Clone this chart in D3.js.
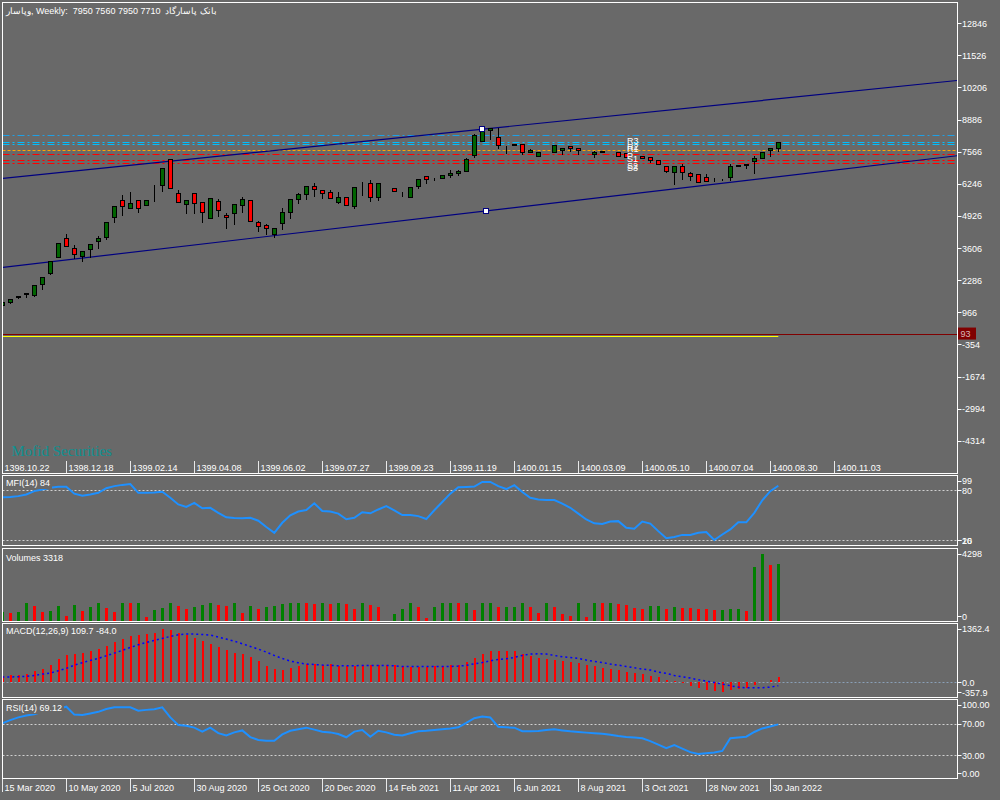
<!DOCTYPE html>
<html>
<head>
<meta charset="utf-8">
<script src="https://cdn.jsdelivr.net/npm/d3@7"></script>
<style>
body{margin:0;background:#696969;}
text{font-family:"Liberation Sans",Arial,sans-serif;font-size:9px;fill:#fff;}
</style>
</head>
<body>
<svg id="chart" width="1000" height="800"></svg>
<script>
// weekly candles [open, high, low, close]
var candles = [
 [1250,1400,1230,1390],[1380,1550,1330,1520],[1580,1660,1560,1650],[1720,1770,1610,1760],[1660,2080,1650,2075],
 [2140,2470,1935,2430],[2570,3115,2560,3085],[3225,3810,3220,3800],[4005,4210,3700,3705],[3595,3775,3185,3350],
 [3290,3480,3085,3470],[3580,3770,3250,3760],[3910,4145,3620,4020],[4050,4670,3965,4665],[4895,5330,4690,5320],
 [5570,5815,4975,5345],[5240,5950,5235,5445],[5570,5575,5100,5240],[5365,5575,5360,5570],[5920,6240,5550,5925],
 [6185,6890,5965,6885],[7255,7260,6080,6085],[5855,6020,5480,5485],[5405,5575,5060,5570],[5855,5860,5060,5445],
 [5485,5490,4690,5075],[4855,5655,4850,5650],[5530,5650,4935,5160],[4950,5075,4445,4870],[5035,5410,4605,5405],
 [5365,5735,5100,5610],[5570,5575,4700,4705],[4665,4745,4320,4525],[4540,4625,4195,4420],[4195,4420,4050,4420],
 [4625,5280,4400,5075],[5075,5615,4830,5610],[5610,5895,5445,5815],[5815,6150,5610,6145],[6145,6310,5760,6020],
 [5980,5985,5675,5855],[5895,6020,5645,5650],[5485,5940,5445,5690],[5690,5695,5360,5365],[5320,6110,5240,6105],
 [6350,6355,5775,6350],[6265,6430,5530,5690],[5690,6270,5570,6265],[6060,6065,6055,6060],[6060,6065,5935,5940],
 [5815,5940,5735,5815],[5690,6105,5690,6105],[6145,6435,6060,6430],[6555,6560,6265,6430],[6455,6515,6390,6455],
 [6475,6600,6470,6595],[6595,6845,6515,6680],[6680,6845,6595,6760],[6760,7335,6755,7255],[7420,8320,7360,8240],
 [7995,8490,7990,8485],[8445,8530,8075,8530],[8160,8570,7705,7830],[7855,7860,7525,7855],[7830,7900,7825,7895],
 [7870,7875,7460,7540],[7540,7705,7535,7635],[7375,7560,7370,7555],[7540,7545,7535,7540],[7540,7830,7535,7830],
 [7625,7745,7460,7705],[7790,7795,7585,7705],[7705,7710,7460,7625],[7625,7630,7620,7625],[7460,7625,7335,7540],
 [7540,7585,7540,7585],[7540,7545,7535,7540],[7540,7545,7375,7375],[7500,7505,7335,7335],[7375,7380,7370,7375],
 [7370,7380,7290,7295],[7335,7340,7130,7215],[7215,7220,7045,7050],[6965,6970,6740,6785],[6720,6970,6225,6965],
 [6965,7090,6430,6720],[6680,6760,6390,6555],[6635,6640,6305,6310],[6515,6680,6345,6350],[6430,6515,6350,6430],
 [6430,6470,6400,6430],[6515,7090,6390,6965],[6965,7010,6960,7005],[7005,7090,6885,7050],[7170,7420,6680,7295],
 [7295,7585,7290,7540],[7625,7745,7375,7705],[7710,7955,7585,7950]
];

var volumes = [500,440,500,1030,850,500,560,850,320,910,
 560,790,1030,730,500,1030,1020,1035,205,616,
 734,1027,851,675,792,910,1027,910,851,1027,
 440,851,675,792,851,969,1027,1035,1025,969,
 1027,969,1027,969,675,1027,910,792,0,382,
 675,1027,792,147,792,1027,1035,1025,1030,616,
 1027,1035,792,800,810,1027,792,440,1027,792,
 382,264,1027,205,1027,1020,1030,969,910,734,
 725,851,860,675,792,785,734,725,675,616,
 625,675,685,558,3140,3886,3258,3318];

var mfi = [71.6,72,73,75,79,81,83,84.3,84.3,76,
 73.5,75,77,82.5,85,86.5,87.5,77,77,77.5,
 78.3,71,63,60,65,58.5,59,53,47.6,46.8,
 46.5,47,43.5,36,29,41,50,54.5,56.4,64.4,
 55.2,54.6,52,45.2,47,53.6,52.4,57,61,56,
 50.3,50.3,49,45.5,56,66,76,83.6,84,84.5,
 90,90,85,81.5,86,78,71,69,68.5,68.4,
 64,59,52,45,40.4,39.5,42.5,43,35,34,
 42.5,40,31,22.4,24,26.5,26.5,29,30,20.3,
 27,33,41.6,41.6,53,68,79,85.5];

var macdMain = [140,155,171,186,264,302,388,535,636,659,
 682,729,767,845,930,1000,1077,1085,1108,1147,
 1232,1217,1139,1101,1023,946,891,814,736,674,
 659,574,488,380,302,287,333,380,426,426,
 403,419,380,364,380,403,395,403,395,395,
 380,349,357,357,372,372,388,403,457,558,
 655,725,729,729,713,659,612,558,535,512,
 496,465,442,388,364,326,302,287,233,209,
 186,147,109,54,31,-31,-85,-140,-178,-202,
 -225,-178,-163,-140,-62,-5,54,109.7];

var macdSignal = [116,120,124,132,155,186,209,264,318,395,
 450,504,550,612,674,736,806,868,922,969,
 1015,1062,1101,1116,1116,1108,1093,1046,1000,953,
 891,829,767,698,620,550,488,450,419,411,
 395,388,380,380,380,388,388,388,388,380,
 364,364,364,364,364,364,364,372,388,426,
 455,496,525,543,574,620,651,659,651,620,
 589,574,550,512,481,457,419,395,364,333,
 302,279,233,202,155,124,93,54,23,-8,
 -47,-85,-116,-132,-132,-132,-116,-84];

var rsi = [70.5,74.5,78,80.5,82,85,87,89,91.5,81.5,
 81,83,85,88.5,90.7,90.7,90.7,86.5,87.5,88.3,
 90.7,78,68.3,67.5,65,60,65,58,55,59,
 61.5,53,49.5,48.5,48.5,56.5,61,63,65,62.5,
 59.9,59,57,52.8,60,62,53.5,61,59,56,
 55,58,60.3,61,62,63,63.8,65.5,71,77,
 79,77.8,66,65.4,65,60.5,60.3,60.8,62,62.9,
 61.5,60.3,59.5,58.7,58,57.3,56,54.3,53.2,52.5,
 51.6,48,43.5,38.9,43,38.5,34,31.6,32.5,33.5,
 35.5,51.5,52.5,53.5,59.5,64,66.5,69.12];

var pivots = [
 {name:"R3", value:8240, kind:"R3"},
 {name:"R2", value:7977, kind:"R"},
 {name:"R1", value:7883, kind:"R"},
 {name:"P",  value:7624, kind:"P"},
 {name:"S1", value:7472, kind:"S"},
 {name:"S2", value:7213, kind:"S"},
 {name:"S3", value:7102, kind:"S"}
];

// channel lines as [bar, price] pairs
var channels = [
 {from:[0,6470], to:[120,10515]},
 {from:[0,2810], to:[120,7425]}
];
var channelAnchors = [{line:0, bar:60}, {line:1, bar:60.5}];

var levelLine = 93, yellowLevel = -10;

var priceTicks = [12846,11526,10206,8886,7566,6246,4926,3606,2286,966,-354,-1674,-2994,-4314];
var persianDates = ["1398.10.22","1398.12.18","1399.02.14","1399.04.08","1399.06.02","1399.07.27","1399.09.23",
 "1399.11.19","1400.01.15","1400.03.09","1400.05.10","1400.07.04","1400.08.30","1400.11.03"];
var gregDates = ["15 Mar 2020","10 May 2020","5 Jul 2020","30 Aug 2020","25 Oct 2020","20 Dec 2020","14 Feb 2021",
 "11 Apr 2021","6 Jun 2021","8 Aug 2021","3 Oct 2021","28 Nov 2021","30 Jan 2022"];

var mfiTicks = [99,80,20,16], volTicks = [4298,0], macdTicks = [1362.4,0,-357.9], rsiTicks = [100,70,30,0];

var title = "\u0648\u067E\u0627\u0633\u0627\u0631, Weekly:  7950 7560 7950 7710  \u0628\u0627\u0646\u06A9 \u067E\u0627\u0633\u0627\u0631\u06AF\u0627\u062F";

var svg = d3.select("#chart");
var L = 2.5, R = 957.5;
var panes = {
    main: {top:2.5, bottom:473.5},
    mfi:  {top:475.5, bottom:545.5},
    vol:  {top:548.5, bottom:621.5},
    macd: {top:623.5, bottom:697.5},
    rsi:  {top:699.5, bottom:778.5}
};

var x = d3.scaleLinear().domain([0, 97]).range([2.3, 778.3]);
var yPrice = d3.scaleLinear().domain([966, 7566]).range([312.3, 151.7]);
var yMfi = d3.scaleLinear().domain([20, 80]).range([540.3, 490.3]);
var yVol = d3.scaleLinear().domain([0, 3318]).range([621, 564]);
var yMacd = d3.scaleLinear().domain([-357.9, 1362.4]).range([697.5, 623.5]);
var yRsi = d3.scaleLinear().domain([0, 100]).range([779, 700]);

svg.append("rect").attr("width", 1000).attr("height", 800).attr("fill", "#696969");

var defs = svg.append("defs");
Object.keys(panes).forEach(function(k) {
    var p = panes[k];
    defs.append("clipPath").attr("id", "clip-" + k)
        .append("rect").attr("x", L + 0.5).attr("y", p.top + 0.5)
        .attr("width", R - L - 1).attr("height", p.bottom - p.top - 1);
});

var cx = i => Math.round(x(i));
var px = v => Math.round(v) + 0.5;

// ---------- main pane ----------
var mainG = svg.append("g").attr("clip-path", "url(#clip-main)");

mainG.append("line").attr("x1", L).attr("x2", R)
    .attr("y1", px(yPrice(levelLine))).attr("y2", px(yPrice(levelLine)))
    .attr("stroke", "#800000");
mainG.append("line").attr("x1", L).attr("x2", x(candles.length - 1))
    .attr("y1", px(yPrice(yellowLevel))).attr("y2", px(yPrice(yellowLevel)))
    .attr("stroke", "#ffff00");

var pivotStyle = {
    R3: {color:"#1ea0e6", dash:"7,3,2,3"},
    R:  {color:"#00bfff", dash:"7,3,2,3"},
    P:  {color:"#ffa500", dash:"3,2"},
    S:  {color:"#ff0000", dash:"7,3,2,3"}
};
mainG.selectAll("line.pivot").data(pivots).enter().append("line")
    .attr("class", "pivot")
    .attr("x1", L).attr("x2", R)
    .attr("y1", d => px(yPrice(d.value))).attr("y2", d => px(yPrice(d.value)))
    .attr("stroke", d => pivotStyle[d.kind].color)
    .attr("stroke-dasharray", d => pivotStyle[d.kind].dash);

mainG.selectAll("line.channel").data(channels).enter().append("line")
    .attr("class", "channel")
    .attr("x1", d => x(d.from[0])).attr("y1", d => yPrice(d.from[1]))
    .attr("x2", d => x(d.to[0])).attr("y2", d => yPrice(d.to[1]))
    .attr("stroke", "#000080").attr("stroke-width", 1.2);

var candleG = mainG.append("g").attr("shape-rendering", "crispEdges");
candleG.selectAll("line.wick").data(candles).enter().append("line")
    .attr("x1", (d, i) => cx(i) + 0.5).attr("x2", (d, i) => cx(i) + 0.5)
    .attr("y1", d => px(yPrice(d[1]))).attr("y2", d => px(yPrice(d[2])))
    .attr("stroke", "#000");
candleG.selectAll("rect.body").data(candles).enter().append("rect")
    .attr("x", (d, i) => cx(i) - 1.5)
    .attr("y", d => px(yPrice(Math.max(d[0], d[3]))))
    .attr("width", 4)
    .attr("height", d => Math.max(0, px(yPrice(Math.min(d[0], d[3]))) - px(yPrice(Math.max(d[0], d[3])))))
    .attr("fill", d => d[3] > d[0] ? "#006400" : (d[3] < d[0] ? "#ff0000" : "#000"))
    .attr("stroke", "#000");

function channelPrice(c, bar) {
    var t = (bar - c.from[0]) / (c.to[0] - c.from[0]);
    return c.from[1] + t * (c.to[1] - c.from[1]);
}
mainG.selectAll("rect.anchor").data(channelAnchors).enter().append("rect")
    .attr("x", d => Math.round(x(d.bar)) - 2.5)
    .attr("y", d => Math.round(yPrice(channelPrice(channels[d.line], d.bar))) - 2.5)
    .attr("width", 5).attr("height", 5)
    .attr("fill", "#fff").attr("stroke", "#000080");

mainG.selectAll("text.pivot").data(pivots).enter().append("text")
    .attr("x", 627).attr("y", d => yPrice(d.value) + 8.5)
    .text(d => d.name);

svg.append("text").attr("x", 11.5).attr("y", 456)
    .style("font-family", "'Liberation Serif','Times New Roman',serif")
    .style("font-size", "15px").style("fill", "#0e9090")
    .text("Mofid Securities");

svg.append("text").attr("x", 6).attr("y", 13.5)
    .style("white-space", "pre")
    .text(title);

// price axis
var axisG = svg.append("g");
axisG.selectAll("line.ptick").data(priceTicks).enter().append("line")
    .attr("x1", R).attr("x2", R + 4)
    .attr("y1", d => px(yPrice(d))).attr("y2", d => px(yPrice(d)))
    .attr("stroke", "#fff");
axisG.selectAll("text.plabel").data(priceTicks).enter().append("text")
    .attr("x", R + 4.5).attr("y", d => yPrice(d) + 3.5)
    .text(d => d);

axisG.append("rect").attr("x", 958).attr("y", yPrice(levelLine) - 6)
    .attr("width", 18).attr("height", 12).attr("fill", "#800000");
axisG.append("text").attr("x", 960.5).attr("y", yPrice(levelLine) + 3.5)
    .style("fill", "#d8b8b8").text(levelLine);

// persian date axis in main pane
axisG.selectAll("line.dtick").data(persianDates).enter().append("line")
    .attr("x1", (d, i) => cx(i * 8) + 0.5).attr("x2", (d, i) => cx(i * 8) + 0.5)
    .attr("y1", 461).attr("y2", panes.main.bottom)
    .attr("stroke", "#e8e8e8");
axisG.selectAll("text.dlabel").data(persianDates).enter().append("text")
    .attr("x", (d, i) => cx(i * 8) + 2.5).attr("y", 470.5)
    .text(d => d);

// ---------- sub panes ----------
function levels(g, scale, vals, color) {
    g.selectAll(null).data(vals).enter().append("line")
        .attr("x1", L).attr("x2", R)
        .attr("y1", d => px(scale(d))).attr("y2", d => px(scale(d)))
        .attr("stroke", color).attr("stroke-dasharray", "2,2");
}
function scaleLabels(pane, scale, ticks, fmt) {
    ticks.forEach(function(t) {
        var yy = Math.min(Math.max(scale(t), pane.top + 5), pane.bottom - 5.5);
        svg.append("line").attr("x1", R).attr("x2", R + 4)
            .attr("y1", px(yy)).attr("y2", px(yy)).attr("stroke", "#fff");
        svg.append("text").attr("x", R + 4.5).attr("y", yy + 3.5).text(fmt(t));
    });
}
function paneLabel(txt, yBase) {
    var t = svg.append("text").attr("x", 6).attr("y", yBase).text(txt);
    var b = t.node().getBBox();
    svg.insert("rect", function() { return t.node(); })
        .attr("x", b.x - 2).attr("y", b.y).attr("width", b.width + 4).attr("height", b.height + 1)
        .attr("fill", "#696969");
}

// MFI
var mfiG = svg.append("g").attr("clip-path", "url(#clip-mfi)");
levels(mfiG, yMfi, [80, 20], "#d0d0d0");
mfiG.append("path").datum(mfi)
    .attr("d", d3.line().x((d, i) => x(i)).y(d => yMfi(d)))
    .attr("fill", "none").attr("stroke", "#1e90ff").attr("stroke-width", 2);
paneLabel("MFI(14) 84", 486);
scaleLabels(panes.mfi, yMfi, mfiTicks, d => d);

// Volumes
var volG = svg.append("g").attr("clip-path", "url(#clip-vol)").attr("shape-rendering", "crispEdges");
volG.selectAll("rect").data(volumes).enter().append("rect")
    .attr("x", (d, i) => cx(i) - 1).attr("width", 3)
    .attr("y", d => yVol(d)).attr("height", d => yVol(0) - yVol(d))
    .attr("fill", (d, i) => (i === 0 || d > volumes[i - 1]) ? "#008000" : "#ff0000");
paneLabel("Volumes 3318", 561);
scaleLabels(panes.vol, yVol, volTicks, d => d);

// MACD
var macdG = svg.append("g").attr("clip-path", "url(#clip-macd)");
levels(macdG, yMacd, [0], "#8aa0b8");
macdG.append("g").attr("shape-rendering", "crispEdges")
    .selectAll("rect").data(macdMain).enter().append("rect")
    .attr("x", (d, i) => cx(i)).attr("width", 2)
    .attr("y", d => Math.min(yMacd(d), yMacd(0)))
    .attr("height", d => Math.abs(yMacd(0) - yMacd(d)))
    .attr("fill", "#ff0000");
macdG.append("path").datum(macdSignal)
    .attr("d", d3.line().x((d, i) => x(i)).y(d => yMacd(d)))
    .attr("fill", "none").attr("stroke", "#0000ff").attr("stroke-width", 1.5)
    .attr("stroke-dasharray", "2,3");
paneLabel("MACD(12,26,9) 109.7 -84.0", 634);
scaleLabels(panes.macd, yMacd, macdTicks, d => d.toFixed(1));

// RSI
var rsiG = svg.append("g").attr("clip-path", "url(#clip-rsi)");
levels(rsiG, yRsi, [70, 30], "#d0d0d0");
rsiG.append("path").datum(rsi)
    .attr("d", d3.line().x((d, i) => x(i)).y(d => yRsi(d)))
    .attr("fill", "none").attr("stroke", "#1e90ff").attr("stroke-width", 2);
paneLabel("RSI(14) 69.12", 711);
scaleLabels(panes.rsi, yRsi, rsiTicks, d => d.toFixed(2));

// bottom date axis
svg.selectAll("line.gtick").data(gregDates).enter().append("line")
    .attr("x1", (d, i) => cx(i * 8) + 0.5).attr("x2", (d, i) => cx(i * 8) + 0.5)
    .attr("y1", panes.rsi.bottom).attr("y2", 792)
    .attr("stroke", "#e8e8e8");
svg.selectAll("text.glabel").data(gregDates).enter().append("text")
    .attr("x", (d, i) => cx(i * 8) + 2.5).attr("y", 791)
    .text(d => d);

// pane frames
Object.keys(panes).forEach(function(k) {
    var p = panes[k];
    svg.append("rect").attr("x", L).attr("y", p.top)
        .attr("width", R - L).attr("height", p.bottom - p.top)
        .attr("fill", "none").attr("stroke", "#fff");
});
</script>
</body>
</html>
